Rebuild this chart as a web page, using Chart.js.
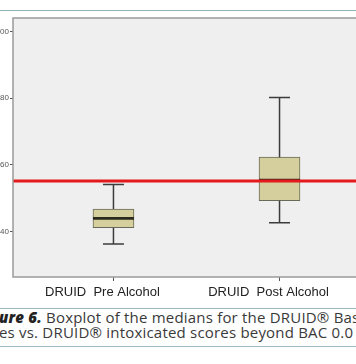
<!DOCTYPE html>
<html><head><meta charset="utf-8">
<script src="https://cdn.jsdelivr.net/npm/chart.js@4/dist/chart.umd.min.js"></script>
<style>
html,body{margin:0;padding:0;background:#fff;}
#wrap{position:relative;width:356px;height:364px;overflow:hidden;background:#fff;}
#topline{position:absolute;left:0;top:10px;width:356px;height:1px;background:#8fb4b6;}
#cv{position:absolute;left:-20px;top:0;}
.hl{position:absolute;left:0;width:356px;height:1px;background:#9ebbc3;}
.cap{position:absolute;left:-1px;white-space:nowrap;font-family:"Open Sans",Lato,sans-serif;font-size:15px;letter-spacing:0.2px;color:#3a3a3a;line-height:15px;}
.cap b{font-style:italic;font-weight:800;color:#222;}
</style></head>
<body>
<div id="wrap">
<div id="topline"></div>
<canvas id="cv" width="430" height="305" style="width:430px;height:305px"></canvas>
<div class="hl" style="top:308px"></div>
<div class="cap" style="top:310px"><b>ure 6.</b> Boxplot of the medians for the DRUID® Bas</div>
<div class="cap" style="top:325px">es vs. DRUID® intoxicated scores beyond BAC 0.0</div>
<div class="hl" style="top:346px"></div>
</div>
<script>
const categories = ['DRUID  Pre Alcohol', 'DRUID  Post Alcohol'];
const whiskerLow = [36.2, 42.6];
const q1 = [41.1, 49.2];
const medians = [43.9, 55.4];
const q3 = [46.7, 62.3];
const whiskerHigh = [54.1, 80.2];
const threshold = [55.1];
const yTicks = [40, 60, 80, 100];

const boxPlugin = {
  id: 'boxes',
  beforeDraw(chart) {
    const {ctx, chartArea: a} = chart;
    ctx.save();
    ctx.fillStyle = '#efefef';
    ctx.fillRect(a.left, a.top, a.right - a.left, a.bottom - a.top);
    ctx.restore();
  },
  afterDatasetsDraw(chart) {
    const {ctx, chartArea: a} = chart;
    const xs = chart.scales.x, ys = chart.scales.y;
    ctx.save();
    categories.forEach((c, i) => {
      const x = xs.getPixelForValue(i + 1);
      ctx.strokeStyle = '#3c3c3c';
      ctx.lineWidth = 1.5;
      ctx.beginPath();
      ctx.moveTo(x, ys.getPixelForValue(whiskerHigh[i]));
      ctx.lineTo(x, ys.getPixelForValue(q3[i]));
      ctx.moveTo(x, ys.getPixelForValue(q1[i]));
      ctx.lineTo(x, ys.getPixelForValue(whiskerLow[i]));
      ctx.moveTo(x - 10.5, ys.getPixelForValue(whiskerHigh[i]));
      ctx.lineTo(x + 10.5, ys.getPixelForValue(whiskerHigh[i]));
      ctx.moveTo(x - 10.5, ys.getPixelForValue(whiskerLow[i]));
      ctx.lineTo(x + 10.5, ys.getPixelForValue(whiskerLow[i]));
      ctx.stroke();
      ctx.strokeStyle = '#2b2a1c';
      ctx.lineWidth = 2.6;
      ctx.beginPath();
      ctx.moveTo(x - 20.5, ys.getPixelForValue(medians[i]));
      ctx.lineTo(x + 20.5, ys.getPixelForValue(medians[i]));
      ctx.stroke();
    });
    ctx.strokeStyle = '#e3191c';
    ctx.lineWidth = 3;
    threshold.forEach(t => {
      const y = ys.getPixelForValue(t);
      ctx.beginPath();
      ctx.moveTo(a.left, y);
      ctx.lineTo(a.right, y);
      ctx.stroke();
    });
    ctx.strokeStyle = '#9a9a9a';
    ctx.lineWidth = 1.5;
    ctx.strokeRect(a.left, a.top, a.right - a.left, a.bottom - a.top);
    ctx.restore();
  }
};

new Chart(document.getElementById('cv'), {
  type: 'bar',
  data: {
    datasets: [{
      data: categories.map((c, i) => ({x: i + 1, y: [q1[i], q3[i]]})),
      backgroundColor: '#d4cf9c',
      borderColor: '#6b6a58',
      borderWidth: 1,
      borderSkipped: false,
      barThickness: 41
    }]
  },
  options: {
    responsive: false,
    animation: false,
    layout: {padding: {top: 18, right: 30, left: 0, bottom: 0}},
    plugins: {legend: {display: false}, tooltip: {enabled: false}},
    scales: {
      x: {
        type: 'linear', min: 0.395, max: 2.605, offset: false,
        afterBuildTicks: s => { s.ticks = categories.map((c, i) => ({value: i + 1})); },
        afterFit: s => { s.height = 28; },
        ticks: {
          callback: v => categories[v - 1],
          font: {family: 'Liberation Sans', size: 13},
          color: '#222', labelOffset: -11, padding: 4,
          maxRotation: 0, autoSkip: false
        },
        grid: {offset: false, drawOnChartArea: false, drawTicks: true, tickLength: 4, tickColor: '#555', tickWidth: 1},
        border: {display: false}
      },
      y: {
        min: 26.3, max: 104.1,
        afterBuildTicks: s => { s.ticks = yTicks.map(v => ({value: v})); },
        afterFit: s => { s.width = 33; },
        ticks: {font: {family: 'Liberation Sans', size: 8}, color: '#555', padding: 1},
        grid: {drawOnChartArea: false, drawTicks: true, tickLength: 3, tickColor: '#555', tickWidth: 1},
        border: {display: false}
      }
    }
  },
  plugins: [boxPlugin]
});
</script>
</body></html>
